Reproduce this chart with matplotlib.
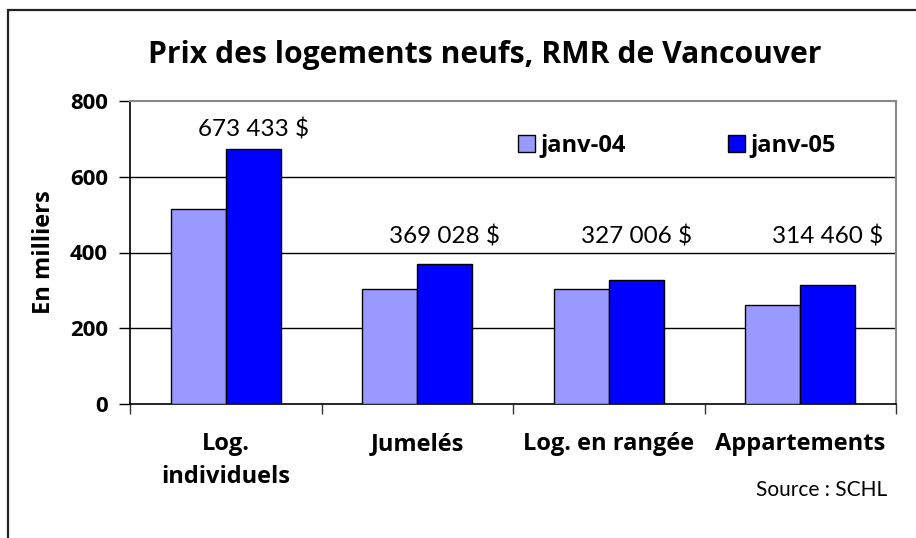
import matplotlib
matplotlib.use("Agg")
import matplotlib.pyplot as plt
from matplotlib.patches import Rectangle
import numpy as np

categories = ["Log.\nindividuels", "Jumelés", "Log. en rangée", "Appartements"]
series_names = ["janv-04", "janv-05"]
janv04 = [515, 303, 303, 261]
janv05 = [673.433, 369.028, 327.006, 314.460]
value_labels = ["673 433 $", "369 028 $", "327 006 $", "314 460 $"]
yticks = [0, 200, 400, 600, 800]

plt.rcParams['font.family'] = ['Open Sans', 'DejaVu Sans']
REG = ['Lato', 'DejaVu Sans']

W, H = 916, 538
fig = plt.figure(figsize=(W / 100, H / 100), dpi=100)
fig.patch.set_facecolor("white")

# outer frame (runs off the right/bottom edge)
fig.patches.append(Rectangle((8 / W, -0.05), 1.2, (H - 10) / H + 0.05,
                             transform=fig.transFigure, fill=False,
                             edgecolor="#222222", linewidth=1.6))

ax = fig.add_axes([130 / W, (H - 404) / H, (896 - 130) / W, (404 - 101) / H])
x = np.arange(len(categories)) + 0.5
bw = 0.287
ax.bar(x - bw / 2, janv04, bw, color="#9999FF", edgecolor="black", linewidth=1.0,
       label=series_names[0], zorder=3)
ax.bar(x + bw / 2, janv05, bw, color="#0000FF", edgecolor="black", linewidth=1.0,
       label=series_names[1], zorder=3)

ax.set_xlim(0, len(categories))
ax.set_ylim(0, 800)
ax.set_yticks(yticks)
ax.set_yticklabels([str(v) for v in yticks], fontsize=16, fontweight="bold")
for v in yticks[1:-1]:
    ax.axhline(v, color="black", linewidth=1.0, zorder=1)

ax.set_xticks(x)
ax.set_xticklabels(categories, fontsize=17, fontweight="bold", linespacing=1.5)
ax.tick_params(axis="x", which="major", length=0, pad=20)
ax.set_xticks(np.arange(len(categories) + 1), minor=True)
ax.tick_params(axis="x", which="minor", length=7, width=1.0, color="#333333")
ax.tick_params(axis="y", length=8, width=1.0, pad=8)

for s in ["top", "right"]:
    ax.spines[s].set_color("#888888")
    ax.spines[s].set_linewidth(1.5)
for s in ["left", "bottom"]:
    ax.spines[s].set_color("black")
    ax.spines[s].set_linewidth(1.2)

label_y = [726, 441, 441, 441]
for xi, lab, ly in zip(x, value_labels, label_y):
    ax.text(xi + bw / 2, ly, lab, ha="center", va="center", fontsize=17.5, family=REG)

ax.set_ylabel("En milliers", fontsize=17, fontweight="bold", labelpad=10)

leg = ax.legend(loc="center left", bbox_to_anchor=((518 - 130) / 766, 1 - (146 - 101) / 303),
                ncol=2, frameon=False, borderpad=0, borderaxespad=0,
                prop={"size": 17, "weight": "bold"}, handlelength=0.72,
                handleheight=0.72, handletextpad=0.25, columnspacing=4.3)

fig.text(485 / W, 1 - 55 / H, "Prix des logements neufs, RMR de Vancouver",
         ha="center", va="center", fontsize=21.7, fontweight="bold")
fig.text(887 / W, 1 - 490 / H, "Source : SCHL", ha="right", va="center", fontsize=15,
         family=REG)

fig.savefig("out.png", dpi=100)
